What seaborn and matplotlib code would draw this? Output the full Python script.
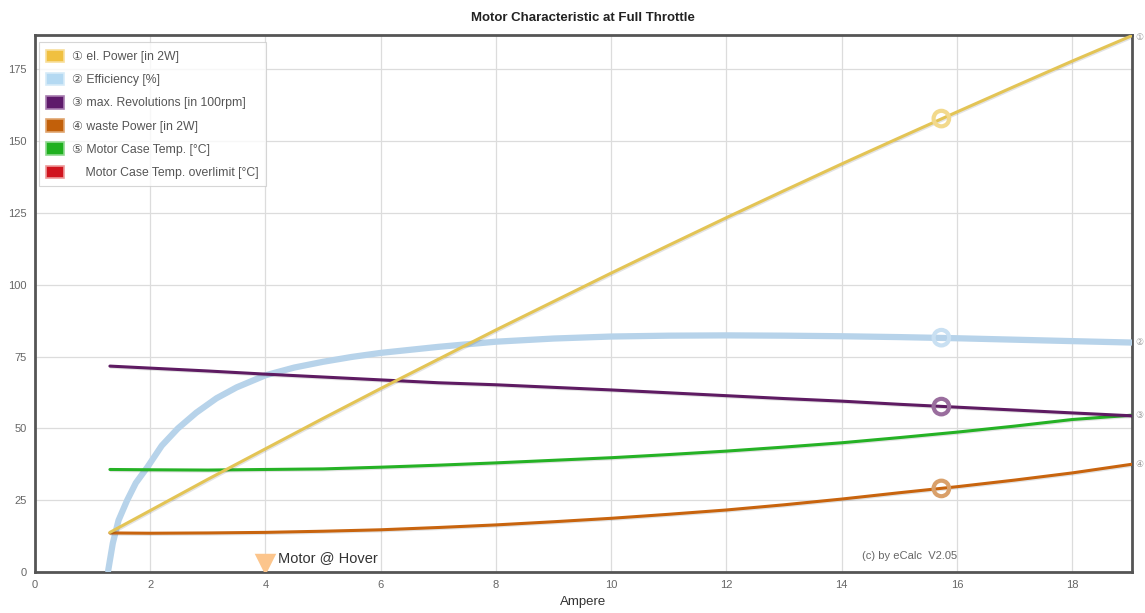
import numpy as np
import pandas as pd
import matplotlib
matplotlib.use("Agg")
import matplotlib.pyplot as plt
import matplotlib.patheffects as pe
from matplotlib.patches import Patch
import seaborn as sns

# ---------------- data ----------------
current = [1.3, 2, 3, 4, 5, 6, 7, 8, 9, 10, 11, 12, 13, 14, 15, 16, 17, 18, 19.03]
el_power = [13.8, 21.4, 32.3, 42.9, 53.5, 63.9, 74.1, 84.3, 94.2, 104.1, 113.8,
            123.4, 132.8, 142.1, 151.2, 160.2, 169.1, 177.9, 186.7]
revolutions = [71.7, 71.0, 70.0, 68.9, 67.9, 66.9, 65.9, 65.2, 64.3, 63.4, 62.4,
               61.4, 60.4, 59.5, 58.4, 57.4, 56.4, 55.4, 54.4]
waste_power = [13.6, 13.5, 13.6, 13.8, 14.2, 14.7, 15.5, 16.4, 17.5, 18.7, 20.1,
               21.6, 23.4, 25.4, 27.6, 29.7, 32.0, 34.5, 37.5]
case_temp = [35.7, 35.6, 35.5, 35.7, 35.9, 36.5, 37.2, 38.0, 38.9, 39.8, 40.9,
             42.1, 43.5, 45.0, 46.8, 48.7, 50.8, 53.1, 54.6]

current_eff = [1.27, 1.35, 1.45, 1.6, 1.75, 1.95, 2.2, 2.48, 2.8, 3.15, 3.5, 4,
               4.5, 5, 5.5, 6, 7, 8, 9, 10, 11, 12, 13, 14, 15, 16, 17, 18, 19.03]
efficiency = [0.5, 10.0, 18.0, 25.0, 31.0, 36.5, 44.0, 50.0, 55.5, 60.5, 64.3, 68.5,
              71.2, 73.2, 74.9, 76.3, 78.4, 80.2, 81.3, 82.0, 82.3, 82.4, 82.3,
              82.1, 81.8, 81.4, 80.9, 80.4, 79.9]

max_current = [15.73]
max_values = {"el": 157.9, "eff": 81.6, "rev": 57.6, "waste": 29.1}

hover_current = [4.0]
hover_marker_y = [2.6]

labels = ["\u2460 el. Power [in 2W]", "\u2461 Efficiency [%]",
          "\u2462 max. Revolutions [in 100rpm]", "\u2463 waste Power [in 2W]",
          "\u2464 Motor Case Temp. [\u00b0C]", "    Motor Case Temp. overlimit [\u00b0C]"]
x_ticks = [0, 2, 4, 6, 8, 10, 12, 14, 16, 18]
y_ticks = [0, 25, 50, 75, 100, 125, 150, 175]

# ---------------- styling ----------------
sns.set_theme(style="white")
plt.rcParams["font.family"] = ["Liberation Sans", "DejaVu Sans", "Noto Sans CJK JP"]

c_el = "#e3c455"
c_eff = "#b7d3ea"
c_rev = "#5e1b62"
c_waste = "#c8640e"
c_temp = "#25b225"
c_over = "#d0141e"

fig = plt.figure(figsize=(11.45, 6.13), dpi=100)
ax = fig.add_axes([35 / 1145, 1 - 572 / 613, (1131.5 - 35) / 1145, (572 - 35) / 613])

df_main = pd.DataFrame({"current": current, "el": el_power, "rev": revolutions,
                        "waste": waste_power, "temp": case_temp})
df_eff = pd.DataFrame({"current": current_eff, "eff": efficiency})

shadow = [pe.SimpleLineShadow(offset=(0.8, -0.8), alpha=0.12, shadow_color="k"), pe.Normal()]

sns.lineplot(data=df_eff, x="current", y="eff", ax=ax, color=c_eff, lw=4.5,
             zorder=3, legend=False)
for col, colr, z in [("temp", c_temp, 4), ("waste", c_waste, 4),
                     ("rev", c_rev, 5), ("el", c_el, 6)]:
    sns.lineplot(data=df_main, x="current", y=col, ax=ax, color=colr, lw=2.2,
                 zorder=z, legend=False, path_effects=shadow)

# max-current markers (hollow circles)
mk_colors = {"el": "#f2d98c", "eff": "#c9e0f2", "rev": "#9a6e9e", "waste": "#d9a06a"}
for key, val in max_values.items():
    sns.scatterplot(x=max_current, y=[val], ax=ax, s=125, marker="o",
                    facecolors="none", edgecolor=mk_colors[key], linewidth=3,
                    zorder=8, legend=False)

# hover marker
sns.scatterplot(x=hover_current, y=hover_marker_y, ax=ax, marker="v", s=240,
                color="#fcc58c", edgecolor="none", zorder=8, legend=False)
ax.text(4.22, 4.8, "Motor @ Hover", fontsize=10.5, color="#333333",
        ha="left", va="center", zorder=9)
ax.text(14.35, 5.5, "(c) by eCalc  V2.05", fontsize=8, color="#666666",
        ha="left", va="center")

# right-edge series labels
for yv, s in [(186.0, "\u2460"), (79.9, "\u2461"), (54.5, "\u2462"), (37.5, "\u2463")]:
    ax.annotate(s, xy=(1, yv), xycoords=("axes fraction", "data"),
                xytext=(2.5, 0), textcoords="offset points", fontsize=6.5,
                color="#999999", va="center", ha="left", annotation_clip=False,
                family=["DejaVu Sans", "Noto Sans CJK JP"])

ax.set_xlim(0, 19.03)
ax.set_ylim(0, 187)
ax.set_xticks(x_ticks)
ax.set_yticks(y_ticks)
ax.grid(True, color="#dcdcdc", lw=0.9)
ax.set_axisbelow(True)
for sp in ax.spines.values():
    sp.set_color("#555555")
    sp.set_linewidth(2.0)
ax.tick_params(axis="both", length=0, labelsize=8, colors="#666666", pad=6)
ax.set_xlabel("Ampere", fontsize=9.5, color="#333333", labelpad=4)
ax.set_ylabel("")
fig.text(583 / 1145, 1 - 18 / 613, "Motor Characteristic at Full Throttle",
         ha="center", va="center", fontsize=9.5, fontweight="bold", color="#222222",
         family=["Liberation Sans Narrow", "Liberation Sans"])

handles = [
    Patch(facecolor="#f0c040", edgecolor="#f8df9c", lw=1.2),
    Patch(facecolor="#b4d9f2", edgecolor="#d6ebf8", lw=1.2),
    Patch(facecolor="#5e1a6b", edgecolor="#a87db0", lw=1.2),
    Patch(facecolor="#c2600a", edgecolor="#e0a570", lw=1.2),
    Patch(facecolor="#1fb01f", edgecolor="#8fd88f", lw=1.2),
    Patch(facecolor=c_over, edgecolor="#ee9a9a", lw=1.2),
]
leg = ax.legend(handles, labels, loc="upper left", bbox_to_anchor=(0.0, 0.993),
                fontsize=8.8, frameon=True, fancybox=False, edgecolor="#cccccc",
                handlelength=1.5, handleheight=1.2, labelspacing=0.8,
                handletextpad=0.65, borderpad=0.6, borderaxespad=0.3)
leg.get_frame().set_linewidth(0.8)
for t in leg.get_texts():
    t.set_color("#555555")
    t.set_family(["Liberation Sans", "DejaVu Sans", "Noto Sans CJK JP"])

fig.savefig("out.png", dpi=100)
